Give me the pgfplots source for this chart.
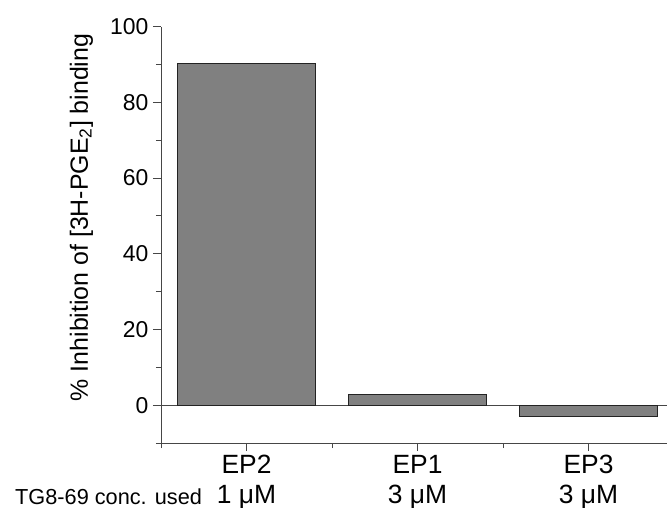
\documentclass[border=0pt]{standalone}
\usepackage{fontspec}
\setmainfont{Liberation Sans}
\usepackage{pgfplots}
\pgfplotsset{compat=1.18}

\definecolor{barfill}{RGB}{128,128,128}
\definecolor{baredge}{RGB}{35,35,35}
\definecolor{axisgray}{RGB}{70,70,70}

\begin{document}
\begin{tikzpicture}
\begin{axis}[
  scale only axis,
  width=506bp, height=416.3bp,
  xmin=-0.5, xmax=2.459,
  ymin=-10, ymax=100,
  axis x line=bottom, axis y line=left,
  axis line style={-, axisgray, line width=0.9bp},
  tick align=outside,
  tick style={axisgray, line width=0.9bp},
  major tick length=8bp, minor tick length=5bp,
  ytick={0,20,40,60,80,100},
  minor ytick={-10,10,30,50,70,90},
  xtick={0,1,2},
  xticklabels={EP2,EP1,EP3},
  minor xtick={-0.5,0.5,1.5},
  /pgf/number format/assume math mode=true,
  yticklabel style={font=\fontsize{23}{27}\selectfont, xshift=-1bp},
  xticklabel style={font=\fontsize{26.5}{31}\selectfont, yshift=-1bp},
  % second row of labels: concentration used for each receptor
  extra x ticks={0,1,2},
  extra x tick labels={1 μM,3 μM,3 μM},
  extra x tick style={major tick length=0bp,
    tick label style={font=\fontsize{23}{27}\selectfont, anchor=base,
      yshift=-59.5bp}},
  ylabel={\% Inhibition of [3H-PGE\textsubscript{2}] binding},
  ylabel style={at={(axis description cs:-0.1443,0.5417)}, anchor=base,
    font=\fontsize{25}{30}\selectfont},
  clip=false,
]
% zero reference line
\draw[axisgray, line width=0.9bp] (axis cs:-0.5,0) -- (axis cs:2.459,0);
\addplot[ybar, bar width=0.81, bar shift=0pt, fill=barfill, draw=baredge, line width=0.9bp]
  coordinates {(0,90.4) (1,2.8) (2,-3.1)};
\end{axis}
\node[anchor=base west, font=\fontsize{21.8}{26}\selectfont, inner ysep=0pt, text depth=0pt]
  at ([xshift=-149.3bp, yshift=-61bp]current axis.south west) {TG8-69 conc. used};
\pgfresetboundingbox
\path ([shift={(-161bp,-65bp)}]current axis.south west) rectangle +(667bp,508bp);
\end{tikzpicture}
\end{document}
